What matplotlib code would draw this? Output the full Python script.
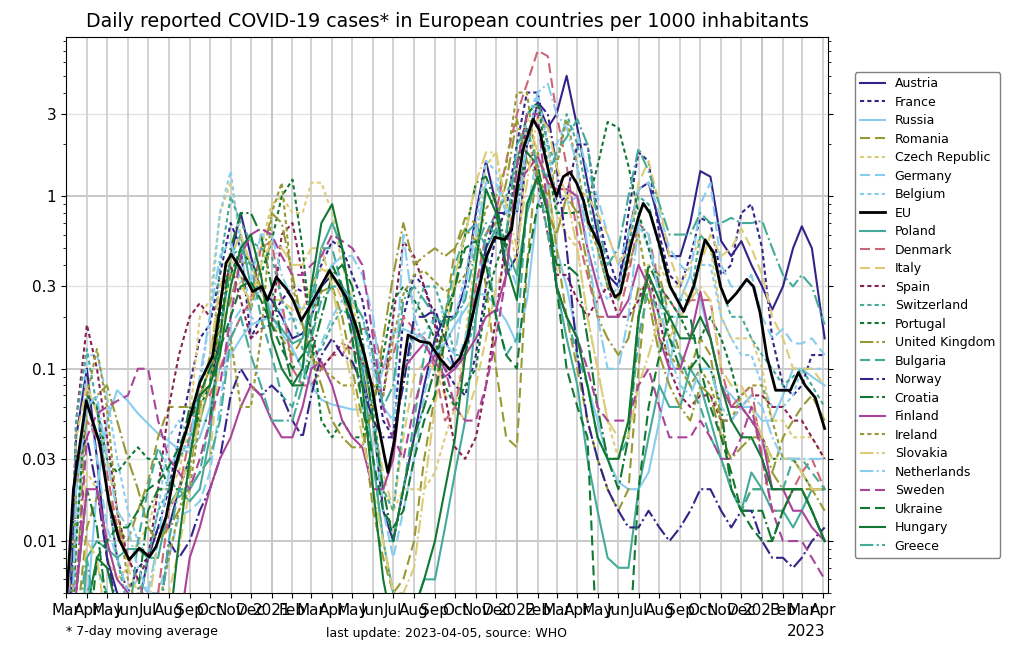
import numpy as np
import pandas as pd
import matplotlib
matplotlib.use("Agg")
import matplotlib.pyplot as plt
import matplotlib.dates as mdates
from matplotlib.ticker import FixedLocator, FixedFormatter, LogLocator, NullFormatter

# semi-monthly sample dates (1st and 16th), 2020-03-01 .. 2023-04-04
grid_dates = []
for y in (2020, 2021, 2022, 2023):
    for m in range(1, 13):
        for d in (1, 16):
            grid_dates.append(pd.Timestamp(y, m, d))
grid_dates = [d for d in grid_dates if pd.Timestamp(2020, 3, 1) <= d <= pd.Timestamp(2023, 4, 1)]
grid_dates[-1] = pd.Timestamp(2023, 4, 4)

austria = [0.001, 0.04, 0.1, 0.03, 0.008, 0.005, 0.004, 0.004, 0.008, 0.012, 0.012, 0.02, 0.03, 0.07, 0.08, 0.15, 0.45, 0.8, 0.45, 0.28,
           0.25, 0.2, 0.15, 0.16, 0.2, 0.3, 0.35, 0.28, 0.18, 0.1, 0.05, 0.015, 0.01, 0.02, 0.04, 0.08, 0.15, 0.2, 0.2, 0.3, 0.8, 1.6, 0.9, 0.35,
           0.45, 2.0, 3.5, 2.5, 3.0, 5.0, 2.5, 1.2, 0.6, 0.35, 0.3, 0.6, 1.1, 1.2, 0.7, 0.45, 0.45, 0.7, 1.4, 1.3, 0.55, 0.45, 0.55, 0.4,
           0.3, 0.22, 0.3, 0.5, 0.67, 0.5, 0.15]
france = [0.001, 0.02, 0.07, 0.06, 0.02, 0.008, 0.005, 0.007, 0.008, 0.012, 0.02, 0.04, 0.08, 0.15, 0.18, 0.35, 0.7, 0.5, 0.15, 0.2,
          0.2, 0.25, 0.3, 0.28, 0.3, 0.4, 0.55, 0.5, 0.35, 0.25, 0.12, 0.05, 0.04, 0.2, 0.35, 0.3, 0.2, 0.1, 0.08, 0.07, 0.12, 0.3, 0.6, 0.85,
          2.0, 4.0, 4.0, 2.0, 0.9, 1.0, 2.0, 2.0, 0.8, 0.45, 0.3, 0.8, 1.8, 1.6, 0.6, 0.35, 0.3, 0.45, 0.75, 0.7, 0.35, 0.4, 0.8, 0.9,
          0.5, 0.15, 0.08, 0.07, 0.08, 0.12, 0.12]
russia = [0.0001, 0.0005, 0.004, 0.02, 0.05, 0.075, 0.065, 0.055, 0.048, 0.042, 0.038, 0.034, 0.033, 0.04, 0.06, 0.1, 0.12, 0.15, 0.18, 0.19,
          0.2, 0.16, 0.13, 0.1, 0.08, 0.066, 0.062, 0.06, 0.058, 0.058, 0.065, 0.1, 0.16, 0.17, 0.16, 0.15, 0.13, 0.14, 0.18, 0.22, 0.27, 0.27, 0.23, 0.19,
          0.14, 0.25, 0.9, 1.2, 0.5, 0.3, 0.15, 0.08, 0.05, 0.03, 0.022, 0.02, 0.02, 0.025, 0.05, 0.1, 0.25, 0.35, 0.25, 0.15, 0.08, 0.07, 0.06, 0.06,
          0.05, 0.05, 0.07, 0.1, 0.1, 0.09, 0.08]
romania = [0.0005, 0.003, 0.012, 0.018, 0.02, 0.012, 0.01, 0.015, 0.022, 0.04, 0.06, 0.06, 0.06, 0.07, 0.1, 0.16, 0.25, 0.42, 0.4, 0.3,
           0.18, 0.15, 0.12, 0.15, 0.2, 0.28, 0.3, 0.2, 0.1, 0.05, 0.015, 0.008, 0.005, 0.006, 0.01, 0.03, 0.07, 0.2, 0.5, 0.75, 0.7, 0.3, 0.1, 0.04,
           0.035, 0.4, 1.8, 1.2, 0.5, 0.2, 0.1, 0.05, 0.03, 0.02, 0.015, 0.02, 0.1, 0.4, 0.35, 0.2, 0.12, 0.1, 0.15, 0.12, 0.05, 0.02, 0.015, 0.02,
           0.02, 0.025, 0.04, 0.05, 0.06, 0.07, 0.05]
czech = [0.0005, 0.005, 0.025, 0.02, 0.008, 0.006, 0.007, 0.01, 0.012, 0.02, 0.02, 0.025, 0.05, 0.2, 0.25, 0.8, 1.2, 0.6, 0.4, 0.5,
         0.9, 1.0, 0.8, 0.8, 1.2, 1.2, 0.8, 0.4, 0.25, 0.12, 0.05, 0.02, 0.015, 0.02, 0.02, 0.02, 0.025, 0.04, 0.06, 0.15, 0.5, 1.5, 1.8, 0.8,
         0.4, 2.0, 3.5, 2.0, 0.8, 0.6, 0.5, 0.2, 0.1, 0.05, 0.03, 0.05, 0.2, 0.4, 0.4, 0.3, 0.3, 0.4, 0.6, 0.5, 0.2, 0.15, 0.15, 0.15,
         0.1, 0.05, 0.05, 0.04, 0.04, 0.04, 0.03]
germany = [0.0005, 0.01, 0.07, 0.03, 0.012, 0.008, 0.005, 0.006, 0.005, 0.005, 0.008, 0.014, 0.015, 0.017, 0.025, 0.06, 0.18, 0.22, 0.22, 0.3,
           0.22, 0.22, 0.13, 0.1, 0.1, 0.14, 0.2, 0.25, 0.2, 0.12, 0.05, 0.015, 0.008, 0.015, 0.03, 0.07, 0.13, 0.12, 0.1, 0.15, 0.3, 0.6, 0.8, 0.45,
           0.3, 0.8, 1.8, 2.0, 2.0, 2.7, 2.3, 1.4, 1.0, 0.6, 0.4, 0.6, 1.1, 1.2, 0.8, 0.5, 0.4, 0.35, 0.9, 1.2, 0.4, 0.3, 0.3, 0.35,
           0.2, 0.15, 0.17, 0.14, 0.14, 0.15, 0.12]
belgium = [0.0005, 0.01, 0.12, 0.12, 0.07, 0.03, 0.015, 0.01, 0.008, 0.015, 0.04, 0.05, 0.04, 0.08, 0.2, 0.8, 1.4, 0.5, 0.2, 0.18,
           0.17, 0.18, 0.2, 0.18, 0.2, 0.3, 0.4, 0.3, 0.25, 0.2, 0.1, 0.06, 0.05, 0.1, 0.15, 0.16, 0.2, 0.22, 0.2, 0.35, 0.7, 1.6, 1.4, 0.8,
           1.0, 2.8, 4.0, 2.0, 0.8, 0.9, 1.0, 0.7, 0.35, 0.25, 0.3, 0.5, 0.7, 0.5, 0.3, 0.2, 0.2, 0.25, 0.4, 0.4, 0.2, 0.15, 0.12, 0.12,
           0.08, 0.06, 0.06, 0.07, 0.1, 0.1, 0.1]
poland = [0.0001, 0.001, 0.008, 0.01, 0.009, 0.008, 0.009, 0.009, 0.008, 0.008, 0.016, 0.02, 0.017, 0.02, 0.04, 0.15, 0.45, 0.6, 0.3, 0.3,
          0.2, 0.17, 0.14, 0.15, 0.25, 0.5, 0.7, 0.5, 0.2, 0.1, 0.03, 0.01, 0.005, 0.003, 0.004, 0.006, 0.006, 0.012, 0.025, 0.05, 0.2, 0.5, 0.65, 0.5,
          0.35, 0.8, 1.3, 0.9, 0.3, 0.15, 0.08, 0.03, 0.015, 0.008, 0.007, 0.007, 0.02, 0.04, 0.08, 0.06, 0.06, 0.1, 0.08, 0.05, 0.03, 0.02, 0.015, 0.025,
          0.02, 0.015, 0.015, 0.012, 0.015, 0.02, 0.02]
denmark = [0.0005, 0.02, 0.05, 0.04, 0.025, 0.012, 0.008, 0.006, 0.004, 0.005, 0.015, 0.02, 0.04, 0.08, 0.07, 0.1, 0.15, 0.2, 0.25, 0.5,
           0.55, 0.25, 0.1, 0.08, 0.08, 0.1, 0.12, 0.12, 0.15, 0.17, 0.17, 0.1, 0.12, 0.2, 0.17, 0.15, 0.1, 0.05, 0.06, 0.12, 0.3, 0.6, 0.8, 1.6,
           3.0, 4.5, 7.0, 6.5, 3.0, 1.5, 0.6, 0.35, 0.2, 0.2, 0.2, 0.35, 0.7, 0.6, 0.3, 0.25, 0.2, 0.25, 0.25, 0.25, 0.1, 0.06, 0.07, 0.08,
           0.03, 0.015, 0.015, 0.02, 0.025, 0.03, 0.02]
italy = [0.0005, 0.04, 0.08, 0.055, 0.03, 0.015, 0.007, 0.005, 0.004, 0.004, 0.005, 0.009, 0.02, 0.025, 0.03, 0.12, 0.45, 0.6, 0.4, 0.28,
         0.25, 0.25, 0.22, 0.22, 0.3, 0.38, 0.35, 0.25, 0.2, 0.12, 0.05, 0.025, 0.015, 0.04, 0.09, 0.11, 0.1, 0.07, 0.06, 0.05, 0.08, 0.15, 0.3, 0.4,
         1.5, 2.9, 1.8, 1.0, 0.6, 1.0, 1.1, 1.0, 0.8, 0.6, 0.4, 0.5, 1.2, 1.6, 0.9, 0.45, 0.3, 0.25, 0.4, 0.6, 0.45, 0.5, 0.65, 0.5,
         0.35, 0.2, 0.15, 0.1, 0.1, 0.1, 0.08]
spain = [0.0005, 0.05, 0.18, 0.1, 0.04, 0.015, 0.008, 0.006, 0.008, 0.02, 0.06, 0.12, 0.2, 0.24, 0.2, 0.25, 0.4, 0.25, 0.15, 0.17,
         0.18, 0.6, 0.7, 0.35, 0.16, 0.1, 0.12, 0.14, 0.13, 0.11, 0.08, 0.07, 0.2, 0.55, 0.45, 0.3, 0.18, 0.07, 0.035, 0.03, 0.04, 0.08, 0.2, 0.6,
         1.5, 2.5, 1.2, 0.6, 0.35, 0.35, 0.25, 0.2, 0.25, 0.3, 0.2, 0.2, 0.25, 0.35, 0.2, 0.1, 0.07, 0.06, 0.07, 0.07, 0.05, 0.05, 0.06, 0.07,
         0.07, 0.06, 0.06, 0.05, 0.05, 0.04, 0.03]
switzerland = [0.0005, 0.05, 0.13, 0.06, 0.02, 0.008, 0.004, 0.004, 0.008, 0.015, 0.02, 0.03, 0.04, 0.05, 0.08, 0.4, 1.0, 0.7, 0.55, 0.5,
               0.45, 0.25, 0.2, 0.13, 0.12, 0.13, 0.18, 0.22, 0.2, 0.12, 0.06, 0.02, 0.015, 0.05, 0.2, 0.3, 0.3, 0.2, 0.12, 0.12, 0.2, 0.6, 0.8, 1.0,
               1.6, 3.0, 3.5, 2.0, 1.5, 3.0, 2.0, 1.0, 0.5, 0.3, 0.25, 0.5, 1.0, 0.9, 0.5, 0.3, 0.25, 0.25, 0.6, 0.5, 0.3, 0.2, 0.2, 0.15,
               0.12, 0.1, 0.08, 0.09, 0.1, 0.08, 0.06]
portugal = [0.0005, 0.01, 0.07, 0.06, 0.03, 0.025, 0.03, 0.035, 0.03, 0.03, 0.02, 0.02, 0.03, 0.06, 0.08, 0.2, 0.35, 0.5, 0.4, 0.35,
            0.55, 1.0, 1.25, 0.5, 0.15, 0.05, 0.04, 0.05, 0.04, 0.04, 0.06, 0.12, 0.25, 0.3, 0.25, 0.2, 0.15, 0.08, 0.06, 0.08, 0.1, 0.25, 0.4, 0.6,
            1.5, 3.0, 3.5, 1.5, 0.8, 0.8, 0.8, 0.9, 1.5, 2.7, 2.5, 1.5, 0.8, 0.5, 0.3, 0.25, 0.2, 0.15, 0.15, 0.2, 0.15, 0.1, 0.06, 0.05,
            0.04, 0.03, 0.03, 0.03, 0.025, 0.02, 0.02]
uk = [0.0005, 0.005, 0.06, 0.07, 0.08, 0.05, 0.03, 0.02, 0.012, 0.01, 0.012, 0.015, 0.025, 0.06, 0.12, 0.25, 0.35, 0.35, 0.22, 0.4,
      0.8, 0.7, 0.35, 0.18, 0.12, 0.08, 0.05, 0.04, 0.035, 0.035, 0.06, 0.15, 0.35, 0.7, 0.4, 0.45, 0.5, 0.45, 0.5, 0.65, 0.55, 0.6, 0.7, 1.2,
      2.8, 1.6, 1.3, 0.8, 0.6, 1.0, 0.8, 0.4, 0.2, 0.15, 0.12, 0.15, 0.3, 0.25, 0.12, 0.08, 0.06, 0.05, 0.08, 0.07, 0.04, 0.03, 0.035, 0.04,
      0.04, 0.025, 0.02, 0.02, 0.02, 0.02, 0.015]
bulgaria = [0.0002, 0.001, 0.005, 0.007, 0.005, 0.004, 0.003, 0.01, 0.02, 0.035, 0.025, 0.018, 0.02, 0.025, 0.05, 0.15, 0.45, 0.5, 0.4, 0.2,
            0.12, 0.07, 0.06, 0.1, 0.2, 0.5, 0.5, 0.3, 0.15, 0.06, 0.03, 0.01, 0.01, 0.02, 0.05, 0.12, 0.2, 0.2, 0.4, 0.6, 0.7, 0.5, 0.2, 0.12,
            0.15, 0.9, 1.3, 0.6, 0.3, 0.2, 0.12, 0.08, 0.04, 0.03, 0.03, 0.04, 0.15, 0.3, 0.2, 0.15, 0.12, 0.08, 0.06, 0.04, 0.03, 0.02, 0.015, 0.02,
            0.02, 0.02, 0.02, 0.03, 0.03, 0.025, 0.02]
norway = [0.0005, 0.03, 0.04, 0.02, 0.008, 0.004, 0.003, 0.002, 0.002, 0.003, 0.01, 0.008, 0.01, 0.015, 0.02, 0.03, 0.07, 0.1, 0.08, 0.07,
          0.08, 0.07, 0.05, 0.04, 0.07, 0.12, 0.15, 0.12, 0.11, 0.08, 0.05, 0.04, 0.04, 0.08, 0.2, 0.2, 0.22, 0.15, 0.1, 0.12, 0.25, 0.5, 0.8, 0.8,
          0.8, 2.0, 3.5, 3.0, 1.5, 0.5, 0.12, 0.05, 0.03, 0.02, 0.015, 0.012, 0.012, 0.015, 0.012, 0.01, 0.012, 0.015, 0.02, 0.02, 0.015, 0.012, 0.015, 0.015,
          0.01, 0.008, 0.008, 0.007, 0.008, 0.01, 0.012]
croatia = [0.0002, 0.005, 0.02, 0.012, 0.004, 0.002, 0.001, 0.005, 0.015, 0.02, 0.02, 0.03, 0.06, 0.05, 0.05, 0.15, 0.5, 0.8, 0.8, 0.6,
           0.3, 0.15, 0.08, 0.08, 0.12, 0.2, 0.35, 0.4, 0.3, 0.15, 0.05, 0.02, 0.01, 0.02, 0.04, 0.06, 0.1, 0.2, 0.3, 0.6, 1.2, 1.3, 0.9, 0.5,
           1.0, 1.8, 1.5, 0.8, 0.4, 0.4, 0.35, 0.15, 0.06, 0.03, 0.02, 0.04, 0.2, 0.4, 0.3, 0.15, 0.1, 0.1, 0.12, 0.1, 0.06, 0.02, 0.015, 0.015,
           0.015, 0.01, 0.015, 0.02, 0.02, 0.015, 0.01]
finland = [0.0002, 0.005, 0.02, 0.02, 0.01, 0.006, 0.005, 0.002, 0.001, 0.002, 0.003, 0.003, 0.008, 0.012, 0.02, 0.03, 0.04, 0.06, 0.08, 0.07,
           0.05, 0.04, 0.04, 0.06, 0.1, 0.11, 0.08, 0.05, 0.04, 0.035, 0.02, 0.02, 0.03, 0.1, 0.12, 0.14, 0.11, 0.09, 0.1, 0.12, 0.15, 0.2, 0.22, 0.35,
           1.2, 1.4, 1.7, 1.2, 1.1, 1.1, 1.0, 0.5, 0.3, 0.2, 0.2, 0.25, 0.4, 0.3, 0.15, 0.1, 0.1, 0.15, 0.28, 0.15, 0.08, 0.06, 0.06, 0.05,
           0.04, 0.02, 0.02, 0.015, 0.015, 0.012, 0.01]
ireland = [0.0002, 0.02, 0.07, 0.13, 0.06, 0.015, 0.006, 0.004, 0.003, 0.004, 0.008, 0.015, 0.02, 0.05, 0.08, 0.18, 0.15, 0.06, 0.06, 0.15,
           0.8, 1.2, 0.3, 0.18, 0.12, 0.1, 0.09, 0.08, 0.08, 0.08, 0.08, 0.07, 0.15, 0.27, 0.35, 0.37, 0.32, 0.28, 0.3, 0.35, 0.5, 0.85, 1.0, 1.5,
           4.0, 4.0, 1.3, 1.0, 1.5, 2.8, 1.5, 0.7, 0.5, 0.3, 0.25, 0.4, 0.6, 0.3, 0.15, 0.12, 0.1, 0.08, 0.1, 0.08, 0.05, 0.05, 0.07, 0.08,
           0.08, 0.05, 0.03, 0.03, 0.025, 0.02, 0.02]
slovakia = [0.0002, 0.002, 0.01, 0.008, 0.003, 0.002, 0.002, 0.003, 0.004, 0.01, 0.015, 0.02, 0.03, 0.05, 0.12, 0.3, 0.45, 0.3, 0.25, 0.4,
            0.55, 0.5, 0.4, 0.4, 0.5, 0.5, 0.3, 0.15, 0.08, 0.04, 0.02, 0.01, 0.005, 0.005, 0.007, 0.02, 0.06, 0.15, 0.35, 0.6, 1.2, 1.8, 1.8, 0.9,
            0.5, 1.2, 3.0, 2.5, 1.5, 1.0, 0.5, 0.2, 0.1, 0.05, 0.04, 0.04, 0.08, 0.12, 0.2, 0.15, 0.2, 0.25, 0.3, 0.25, 0.1, 0.08, 0.08, 0.06,
            0.04, 0.03, 0.03, 0.03, 0.025, 0.02, 0.02]
netherlands = [0.0002, 0.02, 0.06, 0.07, 0.03, 0.015, 0.012, 0.007, 0.005, 0.01, 0.025, 0.035, 0.035, 0.09, 0.2, 0.45, 0.55, 0.32, 0.32, 0.6,
               0.6, 0.35, 0.25, 0.22, 0.25, 0.3, 0.4, 0.45, 0.45, 0.35, 0.2, 0.06, 0.05, 0.6, 0.2, 0.14, 0.12, 0.14, 0.12, 0.3, 0.6, 1.2, 1.2, 0.8,
               0.8, 2.0, 4.0, 4.5, 3.0, 2.5, 1.5, 0.5, 0.2, 0.1, 0.1, 0.2, 0.7, 0.6, 0.25, 0.12, 0.08, 0.07, 0.1, 0.1, 0.06, 0.05, 0.06, 0.07,
               0.06, 0.04, 0.03, 0.03, 0.03, 0.03, 0.03]
sweden = [0.0002, 0.005, 0.04, 0.055, 0.06, 0.065, 0.07, 0.1, 0.1, 0.05, 0.03, 0.025, 0.02, 0.03, 0.05, 0.08, 0.2, 0.45, 0.6, 0.65,
          0.6, 0.45, 0.35, 0.35, 0.4, 0.45, 0.6, 0.55, 0.5, 0.4, 0.15, 0.06, 0.04, 0.03, 0.06, 0.1, 0.12, 0.1, 0.06, 0.05, 0.05, 0.08, 0.15, 0.35,
          1.5, 3.0, 3.0, 0.8, 0.3, 0.2, 0.15, 0.1, 0.06, 0.05, 0.05, 0.05, 0.08, 0.1, 0.06, 0.04, 0.04, 0.04, 0.05, 0.04, 0.03, 0.03, 0.04, 0.06,
          0.03, 0.015, 0.01, 0.01, 0.01, 0.008, 0.006]
ukraine = [0.0001, 0.0002, 0.002, 0.008, 0.01, 0.012, 0.012, 0.015, 0.02, 0.022, 0.027, 0.035, 0.05, 0.07, 0.1, 0.13, 0.2, 0.3, 0.32, 0.25,
           0.18, 0.13, 0.1, 0.12, 0.15, 0.3, 0.4, 0.3, 0.15, 0.06, 0.03, 0.015, 0.012, 0.015, 0.03, 0.05, 0.07, 0.15, 0.3, 0.5, 0.55, 0.4, 0.2, 0.12,
           0.1, 0.4, 0.9, 0.8, 0.3, 0.1, 0.06, 0.04, 0.002, 0.002, 0.002, 0.002, 0.02, 0.06, 0.12, 0.2, 0.2, 0.2, 0.1, 0.06, 0.04, 0.025, 0.015, 0.012,
           0.01, 0.01, 0.015, 0.02, 0.02, 0.015, 0.01]
hungary = [0.0001, 0.0005, 0.004, 0.008, 0.007, 0.004, 0.003, 0.002, 0.002, 0.002, 0.003, 0.01, 0.03, 0.07, 0.08, 0.12, 0.3, 0.5, 0.6, 0.35,
           0.15, 0.1, 0.08, 0.1, 0.3, 0.7, 0.9, 0.5, 0.2, 0.08, 0.02, 0.006, 0.003, 0.004, 0.004, 0.006, 0.01, 0.02, 0.04, 0.12, 0.4, 1.1, 0.8, 0.4,
           0.25, 0.9, 1.3, 0.8, 0.3, 0.2, 0.15, 0.08, 0.04, 0.03, 0.03, 0.05, 0.2, 0.35, 0.25, 0.2, 0.15, 0.15, 0.2, 0.15, 0.08, 0.05, 0.04, 0.04,
           0.03, 0.02, 0.02, 0.02, 0.02, 0.015, 0.01]
greece = [0.0001, 0.003, 0.008, 0.003, 0.002, 0.001, 0.001, 0.001, 0.002, 0.003, 0.01, 0.02, 0.02, 0.025, 0.03, 0.05, 0.15, 0.2, 0.12, 0.08,
          0.05, 0.05, 0.05, 0.08, 0.15, 0.25, 0.3, 0.3, 0.25, 0.2, 0.12, 0.06, 0.08, 0.25, 0.3, 0.25, 0.2, 0.18, 0.2, 0.25, 0.5, 0.7, 0.6, 0.6,
          2.0, 2.5, 1.5, 1.3, 1.8, 2.2, 2.8, 2.0, 0.7, 0.4, 0.5, 1.0, 1.9, 1.4, 0.9, 0.6, 0.6, 0.6, 0.8, 0.7, 0.7, 0.75, 0.7, 0.7,
          0.72, 0.5, 0.35, 0.3, 0.35, 0.3, 0.18]

eu_dates = ["2020-03-01", "2020-03-12", "2020-03-31", "2020-04-20", "2020-05-04", "2020-05-19", "2020-06-03", "2020-06-18",
            "2020-07-03", "2020-07-13", "2020-07-28", "2020-08-12", "2020-08-27", "2020-09-16", "2020-10-05", "2020-10-15",
            "2020-10-25", "2020-11-02", "2020-11-14", "2020-12-04", "2020-12-17", "2020-12-26", "2021-01-08", "2021-01-23",
            "2021-02-02", "2021-02-14", "2021-02-27", "2021-03-13", "2021-03-28", "2021-04-10", "2021-04-22", "2021-05-07",
            "2021-05-20", "2021-05-30", "2021-06-08", "2021-06-18", "2021-06-23", "2021-07-03", "2021-07-16", "2021-07-23",
            "2021-08-10", "2021-08-24", "2021-09-08", "2021-09-23", "2021-10-08", "2021-10-20", "2021-11-02", "2021-11-17",
            "2021-11-29", "2021-12-14", "2021-12-24", "2022-01-01", "2022-01-10", "2022-01-25", "2022-02-04", "2022-02-12",
            "2022-02-19", "2022-03-01", "2022-03-11", "2022-03-21", "2022-03-31", "2022-04-10", "2022-04-18", "2022-05-05",
            "2022-05-20", "2022-05-27", "2022-06-04", "2022-06-19", "2022-07-01", "2022-07-08", "2022-07-18", "2022-08-02",
            "2022-08-17", "2022-09-06", "2022-09-21", "2022-10-08", "2022-10-21", "2022-10-31", "2022-11-10", "2022-11-24",
            "2022-12-09", "2022-12-19", "2022-12-29", "2023-01-08", "2023-01-21", "2023-02-12", "2023-02-24", "2023-03-06",
            "2023-03-21", "2023-04-04"]
eu = [0.004, 0.02, 0.065, 0.037, 0.0167, 0.0102, 0.0078, 0.0091, 0.0081, 0.0093, 0.0139, 0.0285, 0.044, 0.083, 0.118, 0.21,
      0.41, 0.46, 0.39, 0.28, 0.30, 0.25, 0.34, 0.29, 0.25, 0.19, 0.23, 0.29, 0.37, 0.31, 0.26, 0.175,
      0.117, 0.079, 0.049, 0.031, 0.025, 0.039, 0.103, 0.157, 0.144, 0.141, 0.115, 0.099, 0.115, 0.154, 0.26, 0.45,
      0.58, 0.56, 0.64, 1.1, 1.86, 2.8, 2.4, 1.7, 1.3, 1.0, 1.3, 1.38, 1.19, 0.95, 0.70, 0.51,
      0.30, 0.26, 0.275, 0.51, 0.76, 0.91, 0.80, 0.51, 0.30, 0.215, 0.30, 0.56, 0.47, 0.30, 0.24, 0.275,
      0.33, 0.30, 0.21, 0.118, 0.075, 0.075, 0.095, 0.08, 0.068, 0.045]

names = ["Austria", "France", "Russia", "Romania", "Czech Republic", "Germany", "Belgium", "EU", "Poland", "Denmark",
         "Italy", "Spain", "Switzerland", "Portugal", "United Kingdom", "Bulgaria", "Norway", "Croatia", "Finland",
         "Ireland", "Slovakia", "Netherlands", "Sweden", "Ukraine", "Hungary", "Greece"]
series = [austria, france, russia, romania, czech, germany, belgium, eu, poland, denmark,
          italy, spain, switzerland, portugal, uk, bulgaria, norway, croatia, finland,
          ireland, slovakia, netherlands, sweden, ukraine, hungary, greece]

INDIGO, CYAN, TEAL, GREEN = "#332288", "#88CCEE", "#44AA99", "#117733"
OLIVE, SAND, ROSE, WINE, PURPLE = "#999933", "#DDCC77", "#CC6677", "#882255", "#AA4499"
SOLID, DOT, DASH, DASHDOT = "solid", (0, (2.0, 1.5)), (0, (4.8, 2.4)), "dashdot"
styles = {
    "Austria": (INDIGO, SOLID), "France": (INDIGO, DOT), "Russia": (CYAN, SOLID), "Romania": (OLIVE, DASH),
    "Czech Republic": (SAND, DOT), "Germany": (CYAN, DASH), "Belgium": (CYAN, DOT), "EU": ("black", SOLID),
    "Poland": (TEAL, SOLID), "Denmark": (ROSE, DASH), "Italy": (SAND, DASH), "Spain": (WINE, DOT),
    "Switzerland": (TEAL, DOT), "Portugal": (GREEN, DOT), "United Kingdom": (OLIVE, DASHDOT),
    "Bulgaria": (TEAL, DASH), "Norway": (INDIGO, DASHDOT), "Croatia": (GREEN, DASHDOT), "Finland": (PURPLE, SOLID),
    "Ireland": (OLIVE, DOT), "Slovakia": (SAND, DASHDOT), "Netherlands": (CYAN, DASHDOT), "Sweden": (PURPLE, DASH),
    "Ukraine": (GREEN, DASH), "Hungary": (GREEN, SOLID), "Greece": (TEAL, DASHDOT),
}

fig = plt.figure(figsize=(10.24, 6.49), dpi=100)
ax = fig.add_axes([0.0645, 0.0863, 0.7441, 0.8567])

eu_x = pd.to_datetime(eu_dates)
handles = []
for name, vals in zip(names, series):
    col, ls = styles[name]
    x = eu_x if name == "EU" else grid_dates
    lw = 2.0 if name == "EU" else 1.5
    z = 5 if name == "EU" else 2
    h, = ax.plot(x, vals, color=col, ls=ls, lw=lw, label=name, zorder=z)
    handles.append(h)

ax.set_yscale("log")
ax.set_ylim(0.005, 8.4)
ax.set_xlim(pd.Timestamp(2020, 3, 1), pd.Timestamp(2023, 4, 9))

yt = [0.01, 0.03, 0.1, 0.3, 1, 3]
ax.yaxis.set_major_locator(FixedLocator(yt))
ax.yaxis.set_major_formatter(FixedFormatter(["0.01", "0.03", "0.1", "0.3", "1", "3"]))
ax.yaxis.set_minor_locator(LogLocator(base=10, subs=np.arange(2, 10), numticks=20))
ax.yaxis.set_minor_formatter(NullFormatter())

loc = mdates.MonthLocator()
ax.xaxis.set_major_locator(loc)
ax.xaxis.set_major_formatter(mdates.ConciseDateFormatter(loc))

ax.tick_params(axis="both", which="major", labelsize=11, right=True)
ax.tick_params(axis="y", which="minor", right=True)

for v in [0.01, 0.1, 1]:
    ax.axhline(v, color="#c4c4c4", lw=1.3, zorder=0)
for v in [0.03, 0.3, 3]:
    ax.axhline(v, color="#e4e4e4", lw=1.0, zorder=0)
ax.grid(axis="x", color="#cccccc", lw=1.2, zorder=0)
for y in (2021, 2022, 2023):
    ax.axvline(pd.Timestamp(y, 1, 1), color="#a8a8a8", lw=1.4, zorder=0)
ax.set_axisbelow(True)

ax.set_title("Daily reported COVID-19 cases* in European countries per 1000 inhabitants", fontsize=13.7, pad=7)

leg = ax.legend(handles=handles, loc="center left", bbox_to_anchor=(1.035, 0.5), borderaxespad=0,
                fontsize=9, labelspacing=0.44, handlelength=2.0, framealpha=1, edgecolor="#808080")

# year offset shown under the last tick
fig.text(806 / 1024, 1 - 632 / 649, "2023", fontsize=11, ha="center", va="center")
fig.text(66 / 1024, 1 - 631 / 649, "* 7-day moving average", fontsize=9, ha="left", va="center")
fig.text(447 / 1024, 1 - 633 / 649, "last update: 2023-04-05, source: WHO", fontsize=9, ha="center", va="center")

fig.savefig("out.png", dpi=100)
